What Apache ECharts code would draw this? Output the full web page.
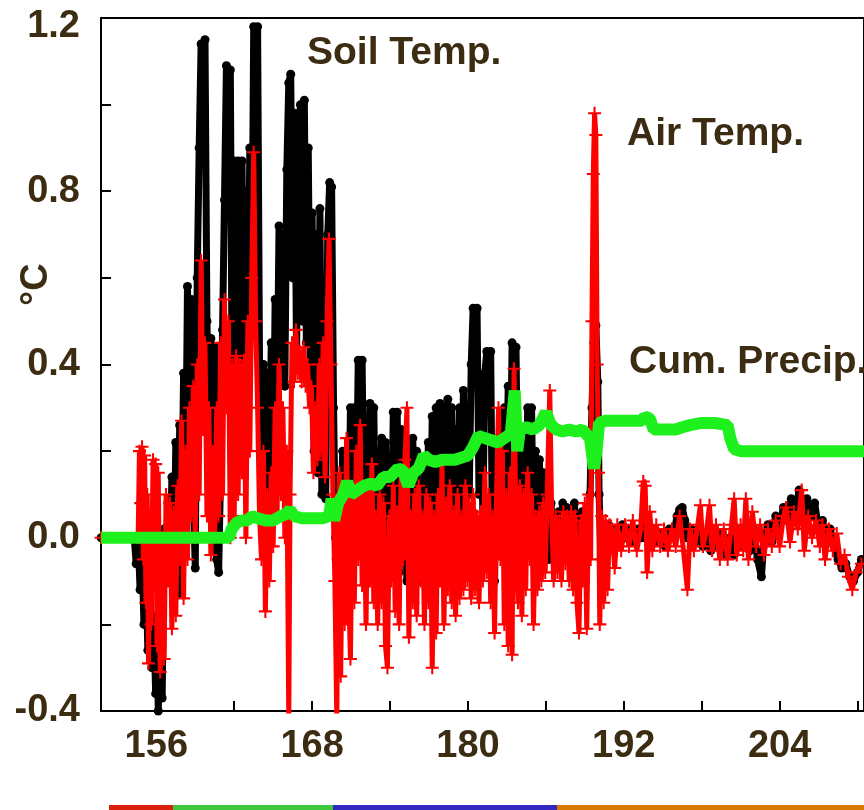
<!DOCTYPE html>
<html><head><meta charset="utf-8">
<script src="https://cdn.jsdelivr.net/npm/echarts@6/dist/echarts.min.js"></script>
<style>html,body{margin:0;padding:0;background:#fff}#c{width:864px;height:810px}</style>
</head><body><div id="c"></div>
<script>
// ---- data: [day of year, °C] ----
const soilTemp = [[151.75,0],[154.3,0],[154.45,-0.06],[154.6,0.0],[154.75,-0.12],[154.9,-0.04],[155.05,-0.2],[155.2,-0.08],[155.35,-0.26],[155.5,-0.12],[155.65,-0.3],[155.8,-0.18],[155.95,-0.36],[156.05,-0.22],[156.15,-0.4],[156.3,-0.2],[156.45,-0.37],[156.6,0.02],[156.75,-0.1],[156.9,0.08],[157.05,-0.06],[157.2,0.14],[157.35,-0.12],[157.5,0.22],[157.65,-0.13],[157.8,0.26],[157.95,0.02],[158.1,0.38],[158.25,0.1],[158.4,0.58],[158.55,0.3],[158.7,0.55],[158.85,0.1],[159.0,-0.07],[159.15,0.6],[159.3,0.9],[159.45,1.14],[159.6,0.96],[159.75,1.15],[159.9,0.5],[160.05,0.25],[160.2,0.46],[160.35,0.18],[160.5,0.44],[160.65,-0.05],[160.8,-0.08],[160.95,0.15],[161.1,0.48],[161.25,0.78],[161.4,1.09],[161.55,0.85],[161.7,1.08],[161.85,0.3],[162.0,0.87],[162.15,0.2],[162.3,0.87],[162.45,0.5],[162.6,0.87],[162.75,0.35],[162.9,0.8],[163.05,0.4],[163.2,0.9],[163.35,0.55],[163.5,1.18],[163.65,0.8],[163.8,1.18],[163.95,0.4],[164.1,0.12],[164.25,0.4],[164.4,0.08],[164.55,0.38],[164.7,0.1],[164.85,0.45],[165.0,0.12],[165.15,0.55],[165.3,0.3],[165.45,0.72],[165.6,0.4],[165.75,0.7],[165.9,0.35],[166.05,0.85],[166.2,1.05],[166.35,1.07],[166.5,0.6],[166.65,0.98],[166.8,0.42],[166.95,0.9],[167.1,1.0],[167.25,0.5],[167.4,1.01],[167.55,0.45],[167.7,0.9],[167.85,0.4],[168.0,0.75],[168.15,0.2],[168.3,0.7],[168.45,0.15],[168.6,0.76],[168.75,0.1],[168.9,0.55],[169.05,0.09],[169.2,0.7],[169.35,0.82],[169.5,0.81],[169.65,0.3],[169.8,0.0],[169.9,-0.02],[170.05,0.1],[170.2,-0.05],[170.35,0.2],[170.5,0.0],[170.65,0.15],[170.8,-0.05],[170.95,0.3],[171.1,0.0],[171.25,0.3],[171.4,0.05],[171.55,0.41],[171.7,0.1],[171.85,0.41],[172.0,0.0],[172.15,0.25],[172.3,-0.03],[172.45,0.31],[172.6,0.05],[172.75,0.3],[172.9,-0.05],[173.05,0.2],[173.2,-0.08],[173.35,0.23],[173.5,0.0],[173.65,0.22],[173.8,-0.05],[173.95,0.18],[174.1,-0.02],[174.25,0.29],[174.4,0.05],[174.55,0.29],[174.7,-0.08],[174.85,0.25],[175.0,-0.05],[175.15,0.15],[175.3,-0.1],[175.45,0.2],[175.6,-0.06],[175.75,0.23],[175.9,0.0],[176.05,0.2],[176.2,-0.1],[176.35,0.1],[176.5,-0.1],[176.65,0.18],[176.8,-0.05],[176.95,0.22],[177.1,0.0],[177.25,0.28],[177.4,-0.05],[177.55,0.3],[177.7,0.05],[177.85,0.31],[178.0,0.0],[178.15,0.3],[178.3,0.05],[178.45,0.32],[178.6,0.0],[178.75,0.3],[178.9,-0.02],[179.05,0.25],[179.2,0.05],[179.35,0.3],[179.5,0.05],[179.65,0.34],[179.8,0.02],[179.95,0.3],[180.1,0.1],[180.25,0.4],[180.4,0.53],[180.55,0.45],[180.7,0.53],[180.85,0.1],[181.0,0.3],[181.15,0.05],[181.3,0.38],[181.45,0.43],[181.6,0.3],[181.75,0.43],[181.9,-0.05],[182.05,-0.1],[182.2,0.2],[182.35,-0.02],[182.5,0.25],[182.65,0.0],[182.8,0.3],[182.95,0.05],[183.1,0.35],[183.25,0.1],[183.4,0.45],[183.55,0.3],[183.7,0.44],[183.85,0.05],[184.0,0.22],[184.15,-0.02],[184.3,0.25],[184.45,0.05],[184.6,0.3],[184.75,0.15],[184.9,0.3],[185.05,-0.05],[185.2,0.2],[185.35,-0.08],[185.5,0.18],[185.65,0.0],[185.8,0.15],[185.95,-0.05],[186.1,0.1],[186.25,-0.05],[186.4,0.08],[186.55,-0.03],[186.7,0.05],[186.85,-0.06],[187.0,0.06],[187.15,-0.03],[187.3,0.08],[187.45,0.0],[187.6,0.07],[187.75,-0.05],[187.9,0.05],[188.05,-0.03],[188.2,0.08],[188.35,-0.02],[188.5,0.04],[188.65,-0.05],[188.8,0.06],[188.95,0.0],[189.1,0.05],[189.25,-0.02],[189.4,0.1],[189.55,0.3],[189.7,0.45],[189.85,0.49],[190.0,0.36],[190.1,0.1],[190.25,-0.05],[190.4,0.02],[190.6,-0.03],[190.8,0.03],[191.0,-0.02],[191.3,0.02],[191.6,0.0],[191.9,0.03],[192.2,0.0],[192.5,0.02],[192.8,-0.01],[193.1,0.02],[193.4,0.0],[193.7,0.03],[194.0,0.0],[194.3,0.02],[194.6,-0.01],[194.9,0.01],[195.2,-0.02],[195.5,0.02],[195.8,0.0],[196.1,0.05],[196.3,0.065],[196.5,0.07],[196.7,0.04],[196.9,0.0],[197.2,0.02],[197.5,-0.01],[197.8,0.02],[198.1,-0.02],[198.4,0.01],[198.7,-0.03],[199.0,0.02],[199.3,-0.02],[199.6,0.01],[199.9,-0.04],[200.2,0.0],[200.5,-0.04],[200.8,0.01],[201.1,-0.02],[201.4,0.02],[201.7,-0.03],[202.0,0.02],[202.3,-0.05],[202.6,-0.09],[202.8,0.0],[203.1,0.03],[203.4,-0.01],[203.7,0.05],[204.0,0.03],[204.3,0.07],[204.6,0.04],[204.9,0.09],[205.2,0.05],[205.5,0.11],[205.8,0.06],[206.1,0.09],[206.4,0.05],[206.7,0.08],[207.0,0.02],[207.3,0.04],[207.6,0.0],[207.9,0.02],[208.2,-0.02],[208.5,-0.05],[208.8,-0.07],[209.1,-0.06],[209.4,-0.09],[209.7,-0.1],[210.0,-0.08],[210.3,-0.05]];

const airTemp = [[151.75,0],[154.6,0],[154.7,0.2],[154.8,0.08],[154.9,0.21],[155.0,-0.05],[155.1,0.19],[155.2,-0.15],[155.3,0.1],[155.4,-0.29],[155.5,0.05],[155.6,-0.2],[155.75,0.18],[155.85,-0.1],[155.95,0.17],[156.05,-0.25],[156.15,0.15],[156.3,-0.31],[156.45,0.0],[156.6,-0.28],[156.75,0.1],[156.9,-0.1],[157.05,0.08],[157.2,-0.21],[157.35,0.06],[157.5,-0.18],[157.65,0.12],[157.8,-0.05],[157.95,0.27],[158.1,-0.14],[158.25,0.2],[158.4,-0.05],[158.55,0.3],[158.7,0.05],[158.85,0.35],[159.0,0.0],[159.15,0.4],[159.3,0.1],[159.45,0.64],[159.6,0.25],[159.75,0.45],[159.9,0.05],[160.05,0.3],[160.2,-0.04],[160.35,0.2],[160.5,0.01],[160.65,0.3],[160.8,0.05],[160.95,0.45],[161.1,0.1],[161.25,0.55],[161.4,0.3],[161.55,0.5],[161.7,0.0],[161.85,0.4],[162.0,0.05],[162.15,0.42],[162.3,0.1],[162.45,0.4],[162.6,0.15],[162.75,0.41],[162.9,0.0],[163.05,0.5],[163.2,0.2],[163.35,0.6],[163.5,0.89],[163.65,0.5],[163.8,0.3],[163.95,0.05],[164.1,-0.05],[164.25,0.2],[164.4,-0.17],[164.55,0.1],[164.7,-0.1],[164.85,0.15],[165.0,-0.02],[165.15,0.3],[165.3,0.05],[165.45,0.4],[165.6,0.1],[165.75,0.3],[165.9,0.0],[166.05,0.2],[166.2,-0.42],[166.3,0.1],[166.45,0.45],[166.6,0.36],[166.75,0.48],[166.9,0.38],[167.05,0.43],[167.2,0.36],[167.35,0.44],[167.5,0.35],[167.65,0.4],[167.8,0.3],[167.95,0.35],[168.1,0.15],[168.25,0.3],[168.4,0.18],[168.55,0.4],[168.7,0.2],[168.85,0.45],[169.0,0.14],[169.15,0.5],[169.3,0.69],[169.45,0.4],[169.6,0.1],[169.75,-0.1],[169.9,-0.42],[170.0,-0.05],[170.1,0.15],[170.2,-0.32],[170.35,0.1],[170.5,-0.2],[170.65,0.23],[170.8,-0.1],[170.95,-0.28],[171.1,0.1],[171.25,-0.15],[171.4,0.2],[171.55,-0.05],[171.7,0.26],[171.85,-0.11],[172.0,0.1],[172.15,-0.2],[172.3,0.12],[172.45,-0.1],[172.6,0.17],[172.75,-0.15],[172.9,0.05],[173.05,-0.2],[173.2,0.1],[173.35,-0.15],[173.5,0.08],[173.65,-0.25],[173.8,-0.3],[173.95,0.05],[174.1,-0.1],[174.25,0.12],[174.4,-0.17],[174.55,0.06],[174.7,-0.2],[174.85,0.15],[175.0,-0.05],[175.15,0.18],[175.3,0.3],[175.45,-0.23],[175.6,0.05],[175.75,-0.15],[175.9,0.1],[176.05,-0.18],[176.2,0.12],[176.35,-0.1],[176.5,0.05],[176.65,-0.2],[176.8,0.1],[176.95,-0.15],[177.1,0.08],[177.25,-0.3],[177.4,0.05],[177.55,-0.22],[177.7,0.1],[177.85,-0.1],[178.0,0.17],[178.15,-0.2],[178.3,0.08],[178.45,-0.12],[178.6,0.12],[178.75,-0.15],[178.9,0.06],[179.05,-0.18],[179.2,0.1],[179.35,-0.14],[179.5,0.05],[179.65,-0.12],[179.8,0.12],[179.95,-0.1],[180.1,0.08],[180.25,-0.14],[180.4,0.1],[180.55,-0.12],[180.7,0.05],[180.85,-0.15],[181.0,0.06],[181.15,-0.1],[181.3,0.15],[181.45,-0.08],[181.6,0.1],[181.75,-0.15],[181.9,0.05],[182.05,-0.22],[182.2,0.1],[182.35,0.3],[182.5,-0.05],[182.65,0.2],[182.8,-0.2],[182.95,0.1],[183.1,-0.25],[183.25,0.15],[183.4,-0.27],[183.55,0.39],[183.7,0.0],[183.85,-0.15],[184.0,0.12],[184.15,-0.18],[184.3,0.1],[184.45,-0.12],[184.6,0.15],[184.75,-0.05],[184.9,0.1],[185.05,-0.2],[185.2,0.05],[185.35,-0.12],[185.5,0.06],[185.65,-0.1],[185.8,0.08],[185.95,-0.08],[186.1,0.1],[186.3,0.34],[186.45,0.05],[186.6,-0.1],[186.75,0.05],[186.9,-0.08],[187.05,0.04],[187.2,-0.1],[187.35,0.06],[187.5,-0.06],[187.65,0.05],[187.8,-0.1],[187.95,0.06],[188.1,-0.12],[188.25,0.05],[188.4,-0.15],[188.55,-0.22],[188.7,0.04],[188.85,-0.1],[189.0,0.08],[189.15,-0.21],[189.3,0.1],[189.45,-0.05],[189.55,0.5],[189.65,0.84],[189.75,0.98],[189.85,0.93],[189.95,0.4],[190.05,0.15],[190.15,-0.2],[190.3,0.05],[190.45,-0.15],[190.6,0.04],[190.75,-0.12],[190.9,0.03],[191.1,0.02],[191.3,-0.07],[191.5,0.03],[191.8,-0.03],[192.1,0.03],[192.4,-0.02],[192.7,0.04],[193.0,-0.03],[193.3,0.02],[193.5,0.13],[193.65,0.12],[193.8,-0.08],[194.0,0.06],[194.2,-0.03],[194.5,0.03],[194.8,-0.02],[195.1,0.02],[195.4,-0.03],[195.7,0.02],[196.0,-0.02],[196.3,0.05],[196.6,-0.03],[196.9,-0.12],[197.1,0.02],[197.4,-0.03],[197.7,0.03],[197.9,0.075],[198.1,-0.02],[198.4,0.02],[198.6,0.075],[198.8,-0.03],[199.1,0.03],[199.4,-0.05],[199.7,0.02],[200.0,-0.05],[200.3,0.03],[200.5,0.09],[200.7,-0.04],[201.0,0.03],[201.2,-0.03],[201.4,0.09],[201.6,-0.05],[201.9,0.06],[202.2,-0.02],[202.5,0.03],[202.8,-0.04],[203.1,0.02],[203.4,-0.02],[203.7,0.04],[204.0,-0.02],[204.3,0.05],[204.5,0.07],[204.8,-0.01],[205.1,0.06],[205.4,0.02],[205.7,0.11],[205.9,-0.03],[206.2,0.05],[206.5,0.0],[206.8,0.04],[207.1,-0.02],[207.3,0.03],[207.5,-0.05],[207.8,0.02],[208.1,-0.03],[208.4,0.01],[208.7,-0.06],[209.0,-0.04],[209.3,-0.09],[209.6,-0.12],[209.9,-0.08],[210.3,-0.06]];

const cumPrecip = [[151.75,0],[161.6,0],[161.8,0.02],[162.2,0.035],[162.6,0.04],[163.0,0.04],[163.4,0.05],[163.8,0.045],[164.4,0.04],[165.0,0.04],[165.6,0.05],[166.0,0.055],[166.3,0.065],[166.6,0.05],[167.2,0.045],[168.0,0.045],[168.8,0.045],[169.3,0.05],[169.5,0.09],[169.7,0.04],[170.0,0.08],[170.4,0.1],[170.7,0.13],[171.0,0.1],[171.5,0.11],[172.0,0.12],[172.5,0.125],[173.0,0.12],[173.5,0.14],[174.0,0.14],[174.6,0.16],[175.0,0.155],[175.4,0.12],[175.8,0.15],[176.2,0.16],[176.6,0.19],[177.0,0.18],[177.5,0.175],[178.0,0.18],[178.5,0.18],[179.0,0.18],[179.5,0.185],[180.0,0.19],[180.4,0.21],[180.8,0.235],[181.3,0.23],[181.8,0.225],[182.3,0.22],[182.8,0.23],[183.3,0.24],[183.6,0.34],[183.8,0.2],[184.0,0.25],[184.5,0.255],[185.0,0.25],[185.5,0.26],[186.0,0.29],[186.4,0.26],[186.8,0.25],[187.3,0.245],[187.8,0.25],[188.3,0.245],[188.8,0.25],[189.4,0.23],[189.7,0.16],[189.9,0.2],[190.1,0.265],[190.6,0.27],[191.5,0.27],[192.5,0.27],[193.4,0.27],[193.6,0.28],[194.0,0.275],[194.3,0.25],[195.0,0.25],[196.0,0.25],[196.5,0.255],[197.1,0.26],[198.0,0.265],[199.0,0.265],[200.0,0.26],[200.2,0.23],[200.5,0.205],[201.0,0.2],[205.0,0.2],[210.5,0.2]];

const xTickValues = [156,162,168,174,180,186,192,198,204,210];
const xLabelValues = [156,168,180,192,204];
const seriesNames = ['Soil Temp.','Air Temp.','Cum. Precip.'];
const yAxisTitle = '°C';
const stripColors = ['#d8200c','#3ec83e','#3228c0','#d87a00'];

const TXT = '#3c2d12';
const FONT = '"Liberation Sans", Arial, sans-serif';
const chart = echarts.init(document.getElementById('c'), null, {renderer:'canvas'});

const plusPath = 'path://M0,4.2H10V5.8H0Z M4.2,0H5.8V10H4.2Z';

chart.setOption({
  animation:false,
  backgroundColor:'#fff',
  grid:{left:101, top:18, width:773, height:693, show:true, borderColor:'#000', borderWidth:2, backgroundColor:'transparent'},
  xAxis:{type:'value', min:151.74, max:210.5,
    axisLine:{show:true, onZero:false, lineStyle:{color:'#000', width:2}},
    axisTick:{show:true, inside:true, length:10, lineStyle:{color:'#000', width:2}, customValues:xTickValues},
    axisLabel:{customValues:xLabelValues, color:TXT, fontSize:38, fontWeight:'bold', fontFamily:FONT, margin:17},
    splitLine:{show:false}},
  yAxis:{type:'value', min:-0.4, max:1.2, interval:0.2,
    axisLine:{show:true, onZero:false, lineStyle:{color:'#000', width:2}},
    axisTick:{show:true, inside:true, length:10, lineStyle:{color:'#000', width:2}},
    axisLabel:{color:TXT, fontSize:38, fontWeight:'bold', fontFamily:FONT, margin:21,
      formatter:function(v){
        const k = Math.round(v/0.4);
        if (Math.abs(k*0.4 - v) > 1e-6) return '';
        const s = (k*0.4).toFixed(1);
        return k === 3 ? '{t|' + s + '}' : s;
      },
      rich:{t:{color:TXT, fontSize:38, fontWeight:'bold', fontFamily:FONT, padding:[18,0,0,0]}}},
    splitLine:{show:false}},
  series:[
    {name:seriesNames[0], type:'line', data:soilTemp, showAllSymbol:true, symbol:'circle', symbolSize:9,
      lineStyle:{color:'#000', width:7}, itemStyle:{color:'#000'}, z:2},
    {name:seriesNames[1], type:'line', data:airTemp, showAllSymbol:true, symbol:plusPath, symbolSize:13,
      lineStyle:{color:'#ff0000', width:5}, itemStyle:{color:'#ff0000'}, z:3},
    {name:seriesNames[2], type:'line', data:cumPrecip, symbol:'none',
      lineStyle:{color:'#1ef01e', width:12}, z:4}
  ],
  graphic:[
    {type:'text', left:307, top:34, style:{text:seriesNames[0], fill:TXT, font:'bold 39px ' + FONT}},
    {type:'text', left:627, top:115, style:{text:seriesNames[1], fill:TXT, font:'bold 39px ' + FONT}},
    {type:'text', left:629, top:343, style:{text:seriesNames[2], fill:TXT, font:'bold 39px ' + FONT}},
    {type:'text', x:18, y:306, rotation:Math.PI/2, style:{text:yAxisTitle, fill:TXT, font:'bold 38px ' + FONT}},
    {type:'rect', shape:{x:109, y:805, width:64, height:5}, style:{fill:stripColors[0]}},
    {type:'rect', shape:{x:173, y:805, width:160, height:5}, style:{fill:stripColors[1]}},
    {type:'rect', shape:{x:333, y:805, width:224, height:5}, style:{fill:stripColors[2]}},
    {type:'rect', shape:{x:557, y:805, width:307, height:5}, style:{fill:stripColors[3]}}
  ]
});
</script></body></html>
